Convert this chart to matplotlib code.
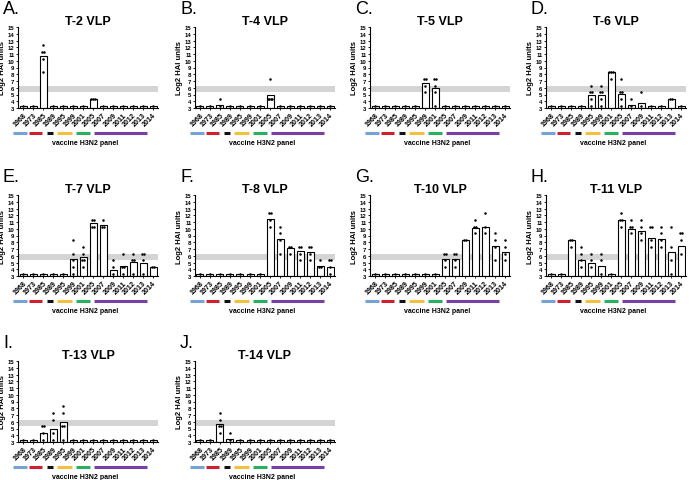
import numpy as np
import matplotlib
matplotlib.use("Agg")
import matplotlib.pyplot as plt
import matplotlib.transforms as mtransforms

plt.rcParams["font.family"] = ["Liberation Sans", "DejaVu Sans"]

# ------------------------------------------------------------------
# Data (log2 HAI units)
# ------------------------------------------------------------------
years = ["1968", "1973", "1985", "1989", "1995", "1999", "2001",
         "2005", "2007", "2009", "2011", "2012", "2013", "2014"]
base = 3.32
band = (5.3, 6.3)

letters = ["A.", "B.", "C.", "D.", "E.", "F.", "G.", "H.", "I.", "J."]
titles = ["T-2 VLP", "T-4 VLP", "T-5 VLP", "T-6 VLP", "T-7 VLP",
          "T-8 VLP", "T-10 VLP", "T-11 VLP", "T-13 VLP", "T-14 VLP"]

bars_t2 = [3.32, 3.32, 10.7, 3.32, 3.32, 3.32, 3.32, 4.32, 3.32, 3.32, 3.32, 3.32, 3.32, 3.32]
dots_t2 = {2: [12.3, 11.3, 11.3, 10.3, 8.3], 7: [4.32, 4.32, 4.32]}

bars_t4 = [3.32, 3.32, 3.5, 3.32, 3.32, 3.32, 3.32, 4.9, 3.32, 3.32, 3.32, 3.32, 3.32, 3.32]
dots_t4 = {2: [4.3, 3.32], 7: [7.3, 4.3, 4.3, 4.3, 4.3]}

bars_t5 = [3.32, 3.32, 3.32, 3.32, 3.32, 6.7, 5.9, 3.32, 3.32, 3.32, 3.32, 3.32, 3.32, 3.32]
dots_t5 = {5: [7.3, 7.3, 6.3, 5.3], 6: [7.3, 7.3, 6.3, 5.3, 3.32]}

bars_t6 = [3.32, 3.32, 3.32, 3.32, 4.9, 4.9, 8.3, 5.1, 3.5, 3.7, 3.32, 3.32, 4.32, 3.32]
dots_t6 = {4: [6.3, 5.3, 5.3, 4.3, 3.32], 5: [6.3, 5.3, 5.3, 4.3, 3.32],
           6: [8.3, 8.3, 8.3, 7.3], 7: [7.3, 5.3, 5.3, 4.3, 3.32],
           8: [4.3, 3.32], 9: [5.3, 3.32], 12: [4.32, 4.32]}

bars_t7 = [3.32, 3.32, 3.32, 3.32, 3.32, 5.5, 5.8, 10.9, 10.5, 3.9, 4.5, 5.1, 4.9, 4.32]
dots_t7 = {5: [8.3, 6.3, 5.3, 4.3, 3.32], 6: [7.3, 6.3, 5.3, 5.3, 4.3],
           7: [11.3, 11.3, 10.3, 10.3], 8: [11.3, 10.3, 10.3],
           9: [5.3, 4.3, 3.32], 10: [6.3, 4.3, 4.3, 3.32],
           11: [6.3, 5.3, 5.3, 3.32], 12: [6.3, 6.3, 5.3, 3.32], 13: [4.32, 4.32]}

bars_t8 = [3.32, 3.32, 3.32, 3.32, 3.32, 3.32, 3.32, 11.5, 8.5, 7.2, 6.7, 6.5, 4.5, 4.3]
dots_t8 = {7: [12.3, 12.3, 11.3, 10.3], 8: [10.3, 9.3, 8.3, 6.3],
           9: [7.3, 7.3, 6.3], 10: [7.3, 7.3, 6.3, 5.3],
           11: [7.3, 7.3, 6.3, 5.3], 12: [5.3, 4.3, 4.3], 13: [5.3, 5.3, 4.3, 3.32]}

bars_t10 = [3.32, 3.32, 3.32, 3.32, 3.32, 3.32, 3.32, 5.5, 5.5, 8.3, 10.1, 10.3, 7.5, 6.5]
dots_t10 = {7: [6.3, 6.3, 5.3, 4.3], 8: [6.3, 6.3, 5.3, 4.3], 9: [8.3, 8.3],
            10: [11.3, 10.3, 10.3, 9.3], 11: [12.3, 10.3, 9.3],
            12: [9.3, 8.3, 7.3, 5.3], 13: [8.3, 7.3, 6.3, 5.3]}

bars_t11 = [3.32, 3.32, 8.3, 5.3, 5.0, 4.5, 3.32, 11.3, 10.0, 9.7, 8.7, 8.5, 6.5, 7.5]
dots_t11 = {2: [8.3, 8.3, 7.3], 3: [7.3, 6.3, 5.3, 4.3], 4: [6.3, 5.3, 4.3],
            5: [6.3, 5.3, 3.32], 7: [12.3, 11.3, 11.3, 10.3], 8: [11.3, 10.3, 10.3, 9.3],
            9: [11.3, 10.3, 9.3, 8.3], 10: [10.3, 10.3, 8.3, 7.3],
            11: [10.3, 9.3, 8.3, 7.3], 12: [10.3, 7.3, 5.3, 3.32], 13: [9.3, 9.3, 8.3, 6.3]}

bars_t13 = [3.32, 3.32, 4.3, 5.0, 5.9, 3.32, 3.32, 3.32, 3.32, 3.32, 3.32, 3.32, 3.32, 3.32]
dots_t13 = {2: [5.3, 5.3, 4.3, 3.32], 3: [7.3, 6.3, 4.3, 3.32], 4: [8.3, 7.3, 5.3, 5.3, 3.32]}

bars_t14 = [3.32, 3.32, 5.7, 3.5, 3.32, 3.32, 3.32, 3.32, 3.32, 3.32, 3.32, 3.32, 3.32, 3.32]
dots_t14 = {2: [7.3, 6.3, 5.3, 5.3, 4.3], 3: [4.3, 3.32]}

panel_bars = [bars_t2, bars_t4, bars_t5, bars_t6, bars_t7,
              bars_t8, bars_t10, bars_t11, bars_t13, bars_t14]
panel_dots = [dots_t2, dots_t4, dots_t5, dots_t6, dots_t7,
              dots_t8, dots_t10, dots_t11, dots_t13, dots_t14]

# vaccine panel colour groups: (start, end) in bar index units
group_colors = ["#76a3d6", "#d0202e", "#111111", "#f4c040", "#27b060", "#7a3ea8"]
group_spans = [(-1.0, 0.4), (0.6, 1.9), (2.4, 3.0), (3.4, 4.9), (5.3, 6.7), (7.1, 12.4)]

# ------------------------------------------------------------------
# Layout (pixels)
# ------------------------------------------------------------------
W, H = 696, 481
col_x = [18, 195, 370, 546]
row_y = [28, 196, 362]
ax_w, ax_h = 140, 81

fig = plt.figure(figsize=(W / 100, H / 100), dpi=100)

x = np.arange(len(years))
for k in range(len(titles)):
    r, c = divmod(k, 4)
    x0, y0 = col_x[c], row_y[r]
    ax = fig.add_axes([x0 / W, 1 - (y0 + ax_h) / H, ax_w / W, ax_h / H])

    ax.axhspan(band[0], band[1], color="#d4d4d4", lw=0, zorder=0)
    ax.bar(x, np.array(panel_bars[k]) - 3, bottom=3, width=0.7,
           facecolor="white", edgecolor="black", lw=0.8, zorder=2)

    for i in range(len(years)):
        vals = panel_dots[k].get(i, [base])
        for v in sorted(set(vals)):
            n = vals.count(v)
            offs = (np.arange(n) - (n - 1) / 2) * 0.16
            ax.plot(x[i] + offs, [v] * n, "o", ms=1.8, color="black",
                    mew=0, zorder=3, clip_on=False)

    ax.set_xlim(-0.5, 13.5)
    ax.set_ylim(3, 15)
    ax.set_yticks(range(3, 16))
    ax.set_xticks(x)
    ax.set_xticklabels(years, rotation=45, ha="right", rotation_mode="anchor",
                       fontsize=5.1, fontweight="bold")
    for t in ax.get_yticklabels():
        t.set_fontsize(4.3)
        t.set_fontweight("bold")
    ax.tick_params(axis="both", length=1.5, width=0.6, pad=1)
    for s in ["top", "right"]:
        ax.spines[s].set_visible(False)
    for s in ["left", "bottom"]:
        ax.spines[s].set_linewidth(0.8)

    ax.set_ylabel("Log2 HAI units", fontsize=5.5, fontweight="bold", labelpad=1)
    ax.set_title(titles[k], fontsize=9, fontweight="bold", pad=2)
    fig.text((x0 - 15) / W, 1 - (y0 - 18) / H, letters[k], fontsize=13,
             va="center", ha="left")

    trans = mtransforms.blended_transform_factory(ax.transData, ax.transAxes)
    for (a, b), col in zip(group_spans, group_colors):
        ax.plot([a, b], [-0.31, -0.31], color=col, lw=2.2, transform=trans,
                clip_on=False, solid_capstyle="butt")
    ax.text(6.2, -0.42, "vaccine H3N2 panel", transform=trans, ha="center",
            va="center", fontsize=5, fontweight="bold")

fig.savefig("out.png", dpi=100)
